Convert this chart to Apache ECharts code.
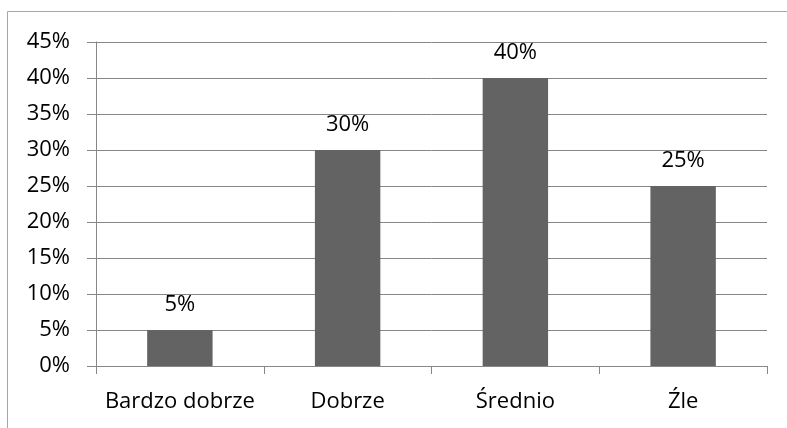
<!DOCTYPE html>
<html lang="pl">
<head>
    <meta charset="UTF-8">
    <title>Ocena</title>
    <style>
        html, body { margin: 0; padding: 0; background: #fff; }
    </style>
</head>
<body>
<div id="main" style="width: 787px;height: 428px;"></div>
<script src="https://cdn.jsdelivr.net/npm/echarts@6/dist/echarts.min.js"></script>
<script type="text/javascript">
    var categories = ['Bardzo dobrze', 'Dobrze', 'Średnio', 'Źle'];
    var values = [5, 30, 40, 25];
    var yTicks = [0, 5, 10, 15, 20, 25, 30, 35, 40, 45];

    var myChart = echarts.init(document.getElementById('main'));
    var gridColor = '#878787';
    var font = '"Open Sans", "Noto Sans", sans-serif';
    var fs = 22;

    var option = {
        animation: false,
        textStyle: { fontFamily: font },
        graphic: [
            {
                // outer chart frame, cut by the picture edge on right and bottom
                type: 'rect',
                shape: { x: 7.5, y: 11.5, width: 820, height: 460 },
                style: { fill: 'none', stroke: '#a6a6a6', lineWidth: 1 },
                silent: true
            }
        ],
        grid: { left: 96, right: 20, top: 42, bottom: 62 },
        xAxis: {
            type: 'category',
            data: categories,
            axisLine: { lineStyle: { color: gridColor, width: 1 } },
            axisTick: { show: true, interval: 0, length: 8, lineStyle: { color: gridColor } },
            axisLabel: { color: '#000', fontSize: fs, margin: 25, interval: 0, hideOverlap: false, fontFamily: font }
        },
        yAxis: {
            type: 'value',
            min: yTicks[0],
            max: yTicks[yTicks.length - 1],
            interval: 5,
            axisLine: { show: true, lineStyle: { color: gridColor, width: 1 } },
            axisTick: { show: true, length: 9, lineStyle: { color: gridColor } },
            splitLine: { lineStyle: { color: gridColor, width: 1 } },
            axisLabel: {
                color: '#000', fontSize: fs, margin: 26, fontFamily: font,
                formatter: function (v) { return v + '%'; }
            }
        },
        series: [
            {
                type: 'bar',
                data: values,
                barWidth: '39%',
                itemStyle: { color: '#636363' },
                label: {
                    show: true,
                    position: 'top',
                    distance: 14,
                    color: '#000',
                    fontSize: fs,
                    fontFamily: font,
                    formatter: function (p) { return p.value + '%'; }
                }
            }
        ]
    };
    myChart.setOption(option);
</script>
</body>
</html>
